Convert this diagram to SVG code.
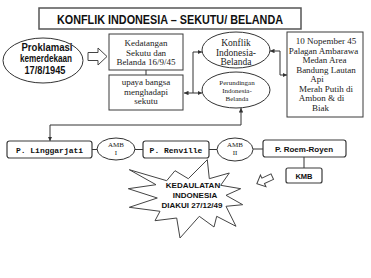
<svg xmlns="http://www.w3.org/2000/svg" width="371" height="278" viewBox="0 0 371 278">
<defs>
<style>
.box{fill:#fff;stroke:#3a3a3a;stroke-width:1}
.rbox{fill:#fff;stroke:#3a3a3a;stroke-width:1.2}
.ln{fill:none;stroke:#333;stroke-width:1}
.serif{font-family:"Liberation Serif","Times New Roman",serif;fill:#222;text-anchor:middle}
.sansb{font-family:"Liberation Sans",Arial,sans-serif;font-weight:bold;fill:#111;text-anchor:middle}
.mono{font-family:"Liberation Mono","Courier New",monospace;font-weight:bold;fill:#111;text-anchor:middle;font-size:8px}
</style>
<marker id="ah" viewBox="0 0 8 8" refX="8" refY="4" markerWidth="4.5" markerHeight="4.5" orient="auto-start-reverse" markerUnits="userSpaceOnUse">
<path d="M0,0 L8,4 L0,8 z" fill="#333"/>
</marker>
</defs>
<rect width="371" height="278" fill="#fff"/>

<g id="title">
<rect x="39" y="8" width="262" height="21" fill="#fff" stroke="#555" stroke-width="1.5"/>
<text x="170" y="23.5" class="sansb" font-size="12.5" textLength="226" lengthAdjust="spacingAndGlyphs">KONFLIK INDONESIA – SEKUTU/ BELANDA</text>
</g>

<g id="connectors">
<line class="ln" x1="146" y1="70" x2="146" y2="75"/>
<path class="ln" d="M184,93 H193 V52 H202" marker-start="url(#ah)" marker-end="url(#ah)"/>
<path class="ln" d="M193,93 H202" marker-end="url(#ah)"/>
<path class="ln" d="M270,51 H280 V75 H287" marker-start="url(#ah)" marker-end="url(#ah)"/>
<path class="ln" d="M241,108 V125 H50 V141" marker-start="url(#ah)" marker-end="url(#ah)"/>
<line class="ln" x1="92" y1="149.5" x2="97" y2="149.5"/>
<line class="ln" x1="135" y1="149.5" x2="143" y2="149.5"/>
<line class="ln" x1="209" y1="149.5" x2="217" y2="149.5"/>
<line class="ln" x1="253" y1="149" x2="263" y2="149"/>
<line class="ln" x1="304" y1="157" x2="304" y2="168"/>
</g>

<g id="proklamasi">
<ellipse cx="43" cy="60.5" rx="40" ry="22.5" fill="#fff" stroke="#333" stroke-width="1"/>
<text x="47" y="50.5" class="sansb" font-size="10" textLength="51" lengthAdjust="spacingAndGlyphs">Proklamasi</text>
<text x="46" y="62" class="sansb" font-size="10" textLength="52" lengthAdjust="spacingAndGlyphs">kemerdekaan</text>
<text x="45" y="73.5" class="sansb" font-size="10" textLength="41" lengthAdjust="spacingAndGlyphs">17/8/1945</text>
</g>

<g id="arrow1">
<path d="M88,52.5 H98 V48 L107,56.5 L98,65 V60.5 H88 z" fill="#fff" stroke="#444" stroke-width="1"/>
</g>

<g id="kedatangan">
<rect class="box" x="109" y="34" width="74" height="36"/>
<text class="serif" font-size="9" x="146" y="46">Kedatangan</text>
<text class="serif" font-size="9" x="146" y="55.5">Sekutu dan</text>
<text class="serif" font-size="9" x="146" y="65">Belanda 16/9/45</text>
</g>

<g id="upaya">
<rect class="box" x="109" y="75" width="74" height="35"/>
<text class="serif" font-size="9" x="146" y="85">upaya bangsa</text>
<text class="serif" font-size="9" x="146" y="94.5">menghadapi</text>
<text class="serif" font-size="9" x="146" y="104">sekutu</text>
</g>

<g id="konflik">
<ellipse cx="236" cy="50" rx="34" ry="18" fill="#fff" stroke="#333" stroke-width="1"/>
<text class="serif" font-size="9.5" x="236" y="46">Konflik</text>
<text class="serif" font-size="9.5" x="236" y="55.5">Indonesia-</text>
<text class="serif" font-size="9.5" x="236" y="65">Belanda</text>
</g>

<g id="perundingan">
<ellipse cx="236" cy="90" rx="34" ry="18" fill="#fff" stroke="#333" stroke-width="1"/>
<text class="serif" font-size="7" x="237" y="85">Perundingan</text>
<text class="serif" font-size="7" x="237" y="92.8">Indonesia-</text>
<text class="serif" font-size="7" x="237" y="100.6">Belanda</text>
</g>

<g id="peristiwa">
<rect class="box" x="287" y="32" width="76" height="85"/>
<text class="serif" font-size="9" x="326" y="44">10 Nopember 45</text>
<text class="serif" font-size="9" x="323.5" y="53.5">Palagan Ambarawa</text>
<text class="serif" font-size="9" x="324.5" y="63">Medan Area</text>
<text class="serif" font-size="9" x="326" y="72.5">Bandung Lautan</text>
<text class="serif" font-size="9" x="317" y="82">Api</text>
<text class="serif" font-size="9" x="326" y="91.5">Merah Putih di</text>
<text class="serif" font-size="9" x="321.5" y="101">Ambon &amp; di</text>
<text class="serif" font-size="9" x="320.5" y="110.5">Biak</text>
</g>

<g id="linggarjati">
<rect class="rbox" x="7" y="141" width="85" height="17" rx="2.5"/>
<text class="mono" x="49.5" y="152.5">P. Linggarjati</text>
</g>

<g id="amb1">
<ellipse cx="116" cy="149" rx="19" ry="11" fill="#fff" stroke="#333" stroke-width="1"/>
<text class="serif" font-size="7" x="116" y="146.5">AMB</text>
<text class="serif" font-size="7" x="116" y="155">I</text>
</g>

<g id="renville">
<rect class="rbox" x="143" y="141" width="66" height="17" rx="2.5"/>
<text class="mono" x="176" y="152.5">P. Renville</text>
</g>

<g id="amb2">
<ellipse cx="235" cy="149.5" rx="18" ry="11.5" fill="#fff" stroke="#333" stroke-width="1"/>
<text class="serif" font-size="7" x="235" y="146.5">AMB</text>
<text class="serif" font-size="7" x="235" y="155">II</text>
</g>

<g id="roemroyen">
<rect class="rbox" x="263" y="140" width="83" height="17" rx="2.5"/>
<text class="sansb" font-size="8" x="304" y="151.5">P.  Roem-Royen</text>
</g>

<g id="kmb">
<rect class="rbox" x="286" y="168" width="36" height="15" rx="2"/>
<text class="sansb" font-size="7.5" x="304" y="178.5">KMB</text>
</g>

<g id="arrow2">
<path transform="translate(265,180) rotate(-25)" d="M-9,0 L-2,-6.5 V-3 H8 V3 H-2 V6.5 z" fill="#fff" stroke="#444" stroke-width="1"/>
</g>

<g id="kedaulatan">
<polygon points="129.3,169.7 166.7,180.7 175,170.7 188.3,178.7 207.3,159.7 209.3,178.7 229.3,173 220.7,185.3 240.7,188.7 226,195.3 242.7,204.7 226,206.3 236,226.3 216.7,216.3 214,227 199.3,216.3 180,238 176.7,218 155,220.7 160,211.3 129.3,207.3 157.3,198 128.3,188.7 156,184.7" fill="#fff" stroke="#444" stroke-width="1"/>
<text class="sansb" font-size="8" x="193" y="188">KEDAULATAN</text>
<text class="sansb" font-size="8" x="195" y="198">INDONESIA</text>
<text class="sansb" font-size="8" x="192" y="207.5">DIAKUI 27/12/49</text>
</g>
</svg>
